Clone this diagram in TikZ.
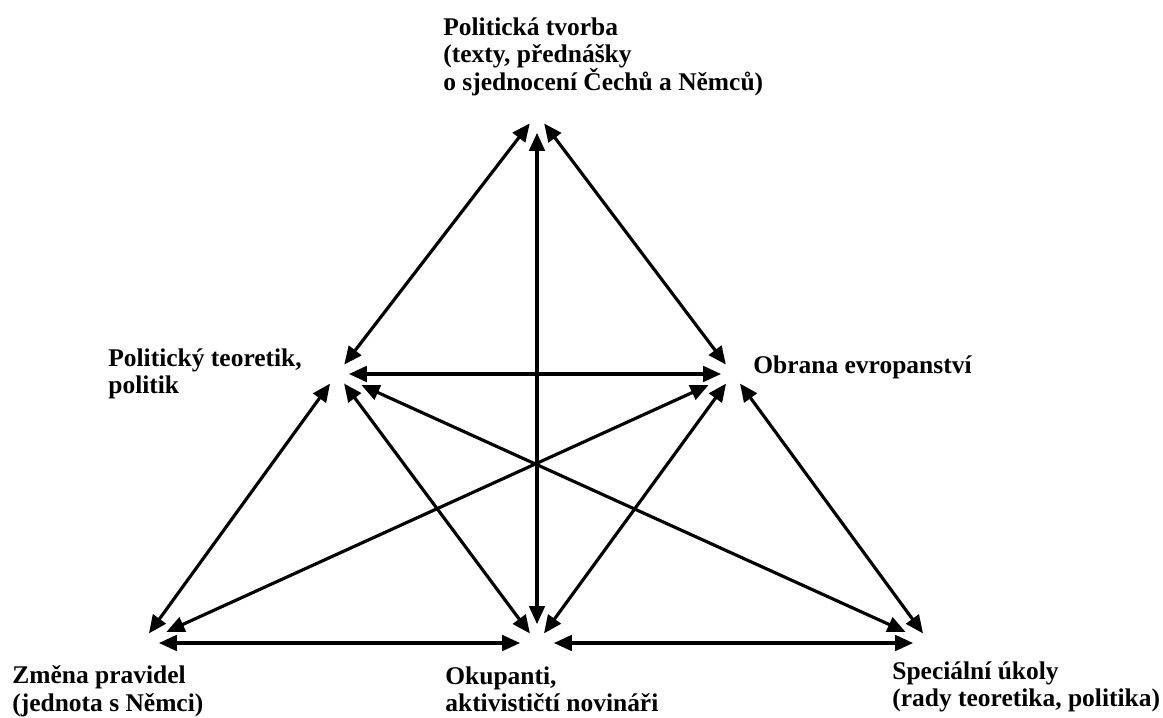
\documentclass[tikz,border=0pt]{standalone}
\usepackage{fontspec}
\setmainfont{Liberation Serif}
\usetikzlibrary{arrows.meta}
\tikzset{
  pt/.style={circle,inner sep=0pt,minimum size=0.46cm},
  lab/.style={anchor=north west,inner sep=0pt,align=left,font=\fontsize{14.5}{15.9}\selectfont\bfseries},
  arr/.style={{Triangle[length=0.36cm,width=0.31cm]}-{Triangle[length=0.36cm,width=0.31cm]},line width=1.8pt},
  farr/.style={arr,shorten <=0.3cm,shorten >=0.3cm},
}
\begin{document}
\begin{tikzpicture}[x=0.02cm,y=-0.02cm]
\useasboundingbox (0,0) rectangle (1163,717);
% meeting points
\node[pt] (t) at (537,114) {};
\node[pt] (l) at (337,374) {};
\node[pt] (r) at (733,374) {};
\node[pt] (bl) at (142,643) {};
\node[pt] (bm) at (537,643) {};
\node[pt] (br) at (930,643) {};
% labels
\node[lab] (tvorba) at (443,17) {Politická tvorba\\(texty, přednášky\\o sjednocení Čechů a Němců)};
\node[lab] (teoretik) at (108,348) {Politický teoretik,\\politik};
\node[lab] (obrana) at (753,355) {Obrana evropanství};
\node[lab] (zmena) at (12,665) {Změna pravidel\\(jednota s Němci)};
\node[lab] (okupanti) at (445,666) {Okupanti,\\aktivističtí novináři};
\node[lab] (ukoly) at (892,661) {Speciální úkoly\\(rady teoretika, politika)};
% links
\foreach \a/\b in {t/l,t/r,l/r,l/bl,l/bm,r/bm,r/br} \draw[arr] (\a)--(\b);
\foreach \a/\b in {bl/bm,bm/br} \draw[arr,shorten <=0.1cm,shorten >=0.1cm] (\a)--(\b);
\draw[arr,shorten <=0.14cm,shorten >=0.14cm] (t)--(bm);
\draw[farr] (l)--(br);
\draw[farr] (r)--(bl);
\end{tikzpicture}
\end{document}
